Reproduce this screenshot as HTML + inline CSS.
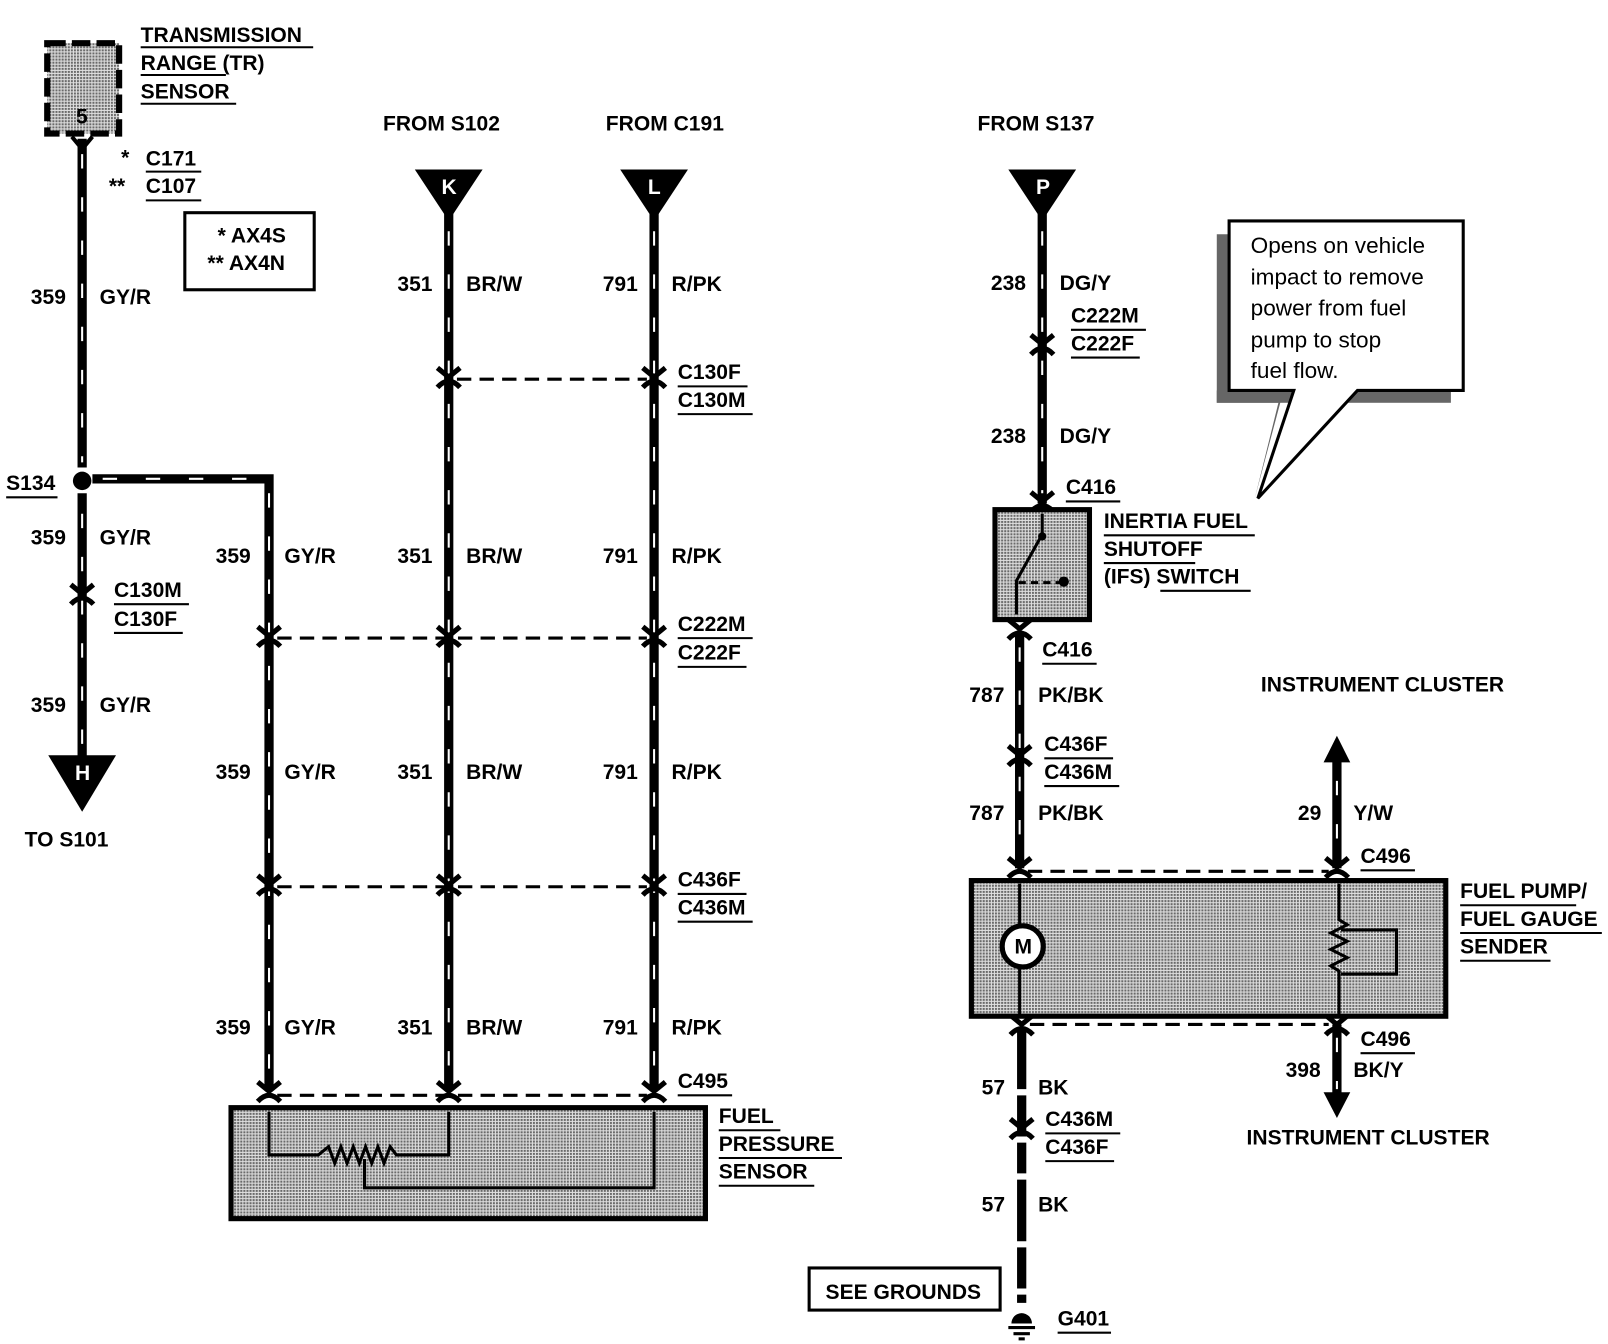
<!DOCTYPE html>
<html><head><meta charset="utf-8"><style>
html,body{margin:0;padding:0;background:#fff;}
svg{display:block;}
text{font-family:"Liberation Sans",sans-serif;font-weight:bold;font-size:20.5px;fill:#000;}
.n{font-weight:normal;font-size:22px;}
</style></head><body>
<svg width="1608" height="1344" viewBox="0 0 1566 1308" preserveAspectRatio="none" xmlns="http://www.w3.org/2000/svg">
<defs>
<pattern id="dots" width="3" height="3" patternUnits="userSpaceOnUse"><rect width="3" height="3" fill="#e0e0e0"/><rect width="2" height="2" fill="#6a6a6a"/></pattern>
<g id="conn"><path d="M-11,-11 L0,-2 L11,-11" stroke="#000" stroke-width="5" fill="none"/><path d="M-11,8 Q0,-4 11,8" stroke="#000" stroke-width="5" fill="none"/></g>
</defs>
<g stroke="#000" stroke-width="9" fill="none">
<line x1="80" y1="135" x2="80" y2="455"/>
<line x1="80" y1="480" x2="80" y2="740"/>
<polyline points="90,466 262,466 262,1060"/>
<line x1="437" y1="200" x2="437" y2="1060"/>
<line x1="637" y1="200" x2="637" y2="1060"/>
<line x1="1015" y1="200" x2="1015" y2="490"/>
<line x1="993" y1="615" x2="993" y2="845"/>
<line x1="1302" y1="740" x2="1302" y2="845"/>
<line x1="1302" y1="997" x2="1302" y2="1065"/>
<line x1="995" y1="1000" x2="995" y2="1268" stroke-dasharray="60 6 40 6 30 6"/>
</g>
<g stroke="#fff" stroke-width="2" stroke-dasharray="14 28">
<line x1="80" y1="150" x2="80" y2="450"/><line x1="80" y1="500" x2="80" y2="730"/>
<line x1="262" y1="480" x2="262" y2="1050"/><line x1="437" y1="225" x2="437" y2="1050"/>
<line x1="637" y1="225" x2="637" y2="1050"/><line x1="1015" y1="225" x2="1015" y2="480"/>
<line x1="993" y1="630" x2="993" y2="840"/><line x1="1302" y1="760" x2="1302" y2="840"/>
<line x1="1302" y1="1010" x2="1302" y2="1060"/>
<line x1="100" y1="466" x2="255" y2="466"/>
</g>
<use href="#conn" x="80" y="580"/><use href="#conn" x="437" y="369"/><use href="#conn" x="637" y="369"/>
<use href="#conn" x="262" y="621"/><use href="#conn" x="437" y="621"/><use href="#conn" x="637" y="621"/>
<use href="#conn" x="262" y="863"/><use href="#conn" x="437" y="863"/><use href="#conn" x="637" y="863"/>
<use href="#conn" x="1015" y="337"/><use href="#conn" x="993" y="737"/><use href="#conn" x="995" y="1100"/>
<use href="#conn" x="262" y="1064"/><use href="#conn" x="437" y="1064"/><use href="#conn" x="637" y="1064"/>
<use href="#conn" x="993" y="846"/><use href="#conn" x="1302" y="846"/>
<use href="#conn" x="995" y="999"/><use href="#conn" x="1302" y="999"/>
<use href="#conn" x="1015" y="490"/><use href="#conn" x="993" y="614"/>
<g stroke="#000" stroke-width="3" stroke-dasharray="14 8">
<line x1="445" y1="369" x2="630" y2="369"/>
<line x1="270" y1="621" x2="630" y2="621"/><line x1="270" y1="863" x2="630" y2="863"/>
<line x1="270" y1="1066" x2="630" y2="1066"/>
<line x1="1001" y1="848" x2="1294" y2="848"/><line x1="1003" y1="997" x2="1294" y2="997"/>
</g>
<rect x="46" y="42" width="70" height="88" fill="url(#dots)" stroke="#000" stroke-width="6" stroke-dasharray="18 6"/>
<text x="74" y="120" font-size="14">5</text>
<path d="M70,133 L80,145 L90,133" stroke="#000" stroke-width="4" fill="none"/>
<circle cx="80" cy="468" r="9" fill="#000"/>
<polygon points="47,735 113,735 80,790" fill="#000"/><text x="73" y="759" style="fill:#fff" font-size="16">H</text>
<polygon points="404,165 470,165 437,215" fill="#000"/><text x="430" y="189" style="fill:#fff" font-size="16">K</text>
<polygon points="604,165 670,165 637,215" fill="#000"/><text x="631" y="189" style="fill:#fff" font-size="16">L</text>
<polygon points="982,165 1048,165 1015,215" fill="#000"/><text x="1009" y="189" style="fill:#fff" font-size="16">P</text>
<polygon points="1289,742 1315,742 1302,716" fill="#000"/>
<polygon points="1289,1063 1315,1063 1302,1088" fill="#000"/>
<rect x="180" y="207" width="126" height="75" fill="none" stroke="#000" stroke-width="3"/>
<text x="212" y="236">*  AX4S</text><text x="202" y="263">**  AX4N</text>
<rect x="225" y="1078" width="462" height="108" fill="url(#dots)" stroke="#000" stroke-width="5"/>
<polyline points="262,1082 262,1124 310,1124 320,1116 326,1132 332,1116 338,1132 344,1116 350,1132 356,1116 362,1132 368,1116 374,1132 380,1116 386,1124 437,1124 437,1082" fill="none" stroke="#000" stroke-width="3"/>
<polyline points="355,1128 355,1156 637,1156 637,1082" fill="none" stroke="#000" stroke-width="3"/>
<rect x="969" y="496" width="92" height="107" fill="url(#dots)" stroke="#000" stroke-width="5"/>
<polyline points="1015,500 1015,520 990,565 990,598" fill="none" stroke="#000" stroke-width="3"/>
<line x1="992" y1="567" x2="1032" y2="567" stroke="#000" stroke-width="3" stroke-dasharray="7 5"/>
<circle cx="1036" cy="566" r="5"/><circle cx="1015" cy="522" r="4"/>
<rect x="946" y="857" width="462" height="132" fill="url(#dots)" stroke="#000" stroke-width="5"/>
<line x1="993" y1="860" x2="993" y2="988" stroke="#000" stroke-width="3"/>
<circle cx="996" cy="921" r="20" fill="#fff" stroke="#000" stroke-width="5"/><text x="988" y="928" font-size="15">M</text>
<polyline points="1304,860 1304,895 1312,900 1296,908 1312,916 1296,924 1312,932 1296,940 1304,945 1304,988" fill="none" stroke="#000" stroke-width="3"/>
<polyline points="1306,905 1360,905 1360,948 1306,948" fill="none" stroke="#000" stroke-width="3"/>
<rect x="788" y="1234" width="186" height="41" fill="none" stroke="#000" stroke-width="3"/>
<text x="804" y="1264">SEE GROUNDS</text>
<path d="M985,1288 A10,10 0 0 1 1005,1288 Z" fill="#000"/>
<line x1="982" y1="1292" x2="1008" y2="1292" stroke="#000" stroke-width="3"/>
<line x1="987" y1="1298" x2="1003" y2="1298" stroke="#000" stroke-width="3"/>
<line x1="992" y1="1303" x2="998" y2="1303" stroke="#000" stroke-width="3"/>
<polygon points="1185,228 1197,228 1197,380 1250,380 1222,485 1245,392 1185,392" fill="#666"/>
<rect x="1185" y="380" width="228" height="12" fill="#666"/>
<polygon points="1197,215 1425,215 1425,380 1322,380 1225,485 1260,380 1197,380" fill="#fff" stroke="#000" stroke-width="3"/>
<text class="n" x="1218" y="246">Opens on vehicle</text>
<text class="n" x="1218" y="277">impact to remove</text>
<text class="n" x="1218" y="307">power from fuel</text>
<text class="n" x="1218" y="338">pump to stop</text>
<text class="n" x="1218" y="368">fuel flow.</text>
<g>
<text x="137" y="41">TRANSMISSION</text><text x="137" y="68">RANGE (TR)</text><text x="137" y="96">SENSOR</text>
<text x="118" y="160">*</text><text x="142" y="161">C171</text>
<text x="106" y="188">**</text><text x="142" y="188">C107</text>
<text x="30" y="296">359</text><text x="97" y="296">GY/R</text>
<text x="6" y="477">S134</text>
<text x="30" y="530">359</text><text x="97" y="530">GY/R</text>
<text x="111" y="581">C130M</text><text x="111" y="609">C130F</text>
<text x="30" y="693">359</text><text x="97" y="693">GY/R</text>
<text x="24" y="824">TO S101</text>
<text x="373" y="127">FROM S102</text><text x="590" y="127">FROM C191</text><text x="952" y="127">FROM S137</text>
<text x="387" y="283">351</text><text x="454" y="283">BR/W</text>
<text x="587" y="283">791</text><text x="654" y="283">R/PK</text>
<text x="660" y="369">C130F</text><text x="660" y="396">C130M</text>
<text x="210" y="548">359</text><text x="277" y="548">GY/R</text>
<text x="387" y="548">351</text><text x="454" y="548">BR/W</text>
<text x="587" y="548">791</text><text x="654" y="548">R/PK</text>
<text x="660" y="614">C222M</text><text x="660" y="642">C222F</text>
<text x="210" y="758">359</text><text x="277" y="758">GY/R</text>
<text x="387" y="758">351</text><text x="454" y="758">BR/W</text>
<text x="587" y="758">791</text><text x="654" y="758">R/PK</text>
<text x="660" y="863">C436F</text><text x="660" y="890">C436M</text>
<text x="210" y="1007">359</text><text x="277" y="1007">GY/R</text>
<text x="387" y="1007">351</text><text x="454" y="1007">BR/W</text>
<text x="587" y="1007">791</text><text x="654" y="1007">R/PK</text>
<text x="660" y="1059">C495</text>
<text x="700" y="1093">FUEL</text><text x="700" y="1120">PRESSURE</text><text x="700" y="1147">SENSOR</text>
<text x="965" y="282">238</text><text x="1032" y="282">DG/Y</text>
<text x="1043" y="314">C222M</text><text x="1043" y="341">C222F</text>
<text x="965" y="431">238</text><text x="1032" y="431">DG/Y</text>
<text x="1038" y="481">C416</text>
<text x="1075" y="514">INERTIA FUEL</text><text x="1075" y="541">SHUTOFF</text><text x="1075" y="568">(IFS) SWITCH</text>
<text x="1015" y="639">C416</text>
<text x="944" y="683">787</text><text x="1011" y="683">PK/BK</text>
<text x="1017" y="731">C436F</text><text x="1017" y="758">C436M</text>
<text x="944" y="798">787</text><text x="1011" y="798">PK/BK</text>
<text x="1228" y="673">INSTRUMENT CLUSTER</text>
<text x="1264" y="798">29</text><text x="1318" y="798">Y/W</text>
<text x="1325" y="840">C496</text>
<text x="1422" y="874">FUEL PUMP/</text><text x="1422" y="901">FUEL GAUGE</text><text x="1422" y="928">SENDER</text>
<text x="1325" y="1018">C496</text>
<text x="1252" y="1048">398</text><text x="1318" y="1048">BK/Y</text>
<text x="956" y="1065">57</text><text x="1011" y="1065">BK</text>
<text x="1018" y="1096">C436M</text><text x="1018" y="1123">C436F</text>
<text x="956" y="1179">57</text><text x="1011" y="1179">BK</text>
<text x="1214" y="1114">INSTRUMENT CLUSTER</text>
<text x="1030" y="1290">G401</text>
</g>
<g stroke="#000" stroke-width="2">
<line x1="137" y1="46" x2="305" y2="46"/><line x1="137" y1="73" x2="220" y2="73"/><line x1="137" y1="101" x2="230" y2="101"/>
<line x1="142" y1="167" x2="196" y2="167"/><line x1="142" y1="195" x2="196" y2="195"/>
<line x1="6" y1="484" x2="56" y2="484"/>
<line x1="111" y1="588" x2="184" y2="588"/><line x1="111" y1="616" x2="178" y2="616"/>
<line x1="660" y1="376" x2="728" y2="376"/><line x1="660" y1="403" x2="733" y2="403"/>
<line x1="660" y1="621" x2="733" y2="621"/><line x1="660" y1="649" x2="727" y2="649"/>
<line x1="660" y1="870" x2="727" y2="870"/><line x1="660" y1="897" x2="733" y2="897"/>
<line x1="660" y1="1066" x2="713" y2="1066"/>
<line x1="700" y1="1100" x2="760" y2="1100"/><line x1="700" y1="1127" x2="820" y2="1127"/><line x1="700" y1="1154" x2="793" y2="1154"/>
<line x1="1043" y1="321" x2="1116" y2="321"/><line x1="1043" y1="348" x2="1110" y2="348"/>
<line x1="1038" y1="488" x2="1091" y2="488"/>
<line x1="1075" y1="521" x2="1222" y2="521"/><line x1="1075" y1="548" x2="1164" y2="548"/><line x1="1130" y1="575" x2="1218" y2="575"/>
<line x1="1015" y1="646" x2="1068" y2="646"/>
<line x1="1017" y1="738" x2="1084" y2="738"/><line x1="1017" y1="765" x2="1090" y2="765"/>
<line x1="1325" y1="847" x2="1378" y2="847"/>
<line x1="1422" y1="881" x2="1535" y2="881"/><line x1="1422" y1="908" x2="1560" y2="908"/><line x1="1422" y1="935" x2="1510" y2="935"/>
<line x1="1325" y1="1025" x2="1378" y2="1025"/>
<line x1="1018" y1="1103" x2="1091" y2="1103"/><line x1="1018" y1="1130" x2="1085" y2="1130"/>
<line x1="1030" y1="1297" x2="1082" y2="1297"/>
</g>
</svg>
</body></html>
